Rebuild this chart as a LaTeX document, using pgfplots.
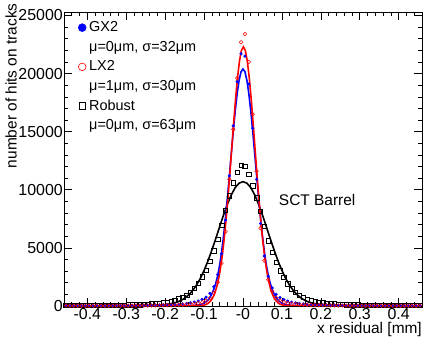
\documentclass[border=0pt]{standalone}
\usepackage{fontspec}
\setmainfont{Liberation Sans}
\usepackage{pgfplots}
\usepackage{pgfplotstable}
\pgfplotsset{compat=1.18}

% histogram points: bin centre, GX2, LX2, Robust
\pgfplotstableread{
x gx lx rb
-0.455 60 40 60
-0.445 28 20 39
-0.435 28 20 40
-0.425 29 20 42
-0.415 29 21 44
-0.405 30 21 46
-0.395 30 22 48
-0.385 31 22 50
-0.375 32 23 53
-0.365 33 23 56
-0.355 34 24 59
-0.345 35 25 63
-0.335 36 26 67
-0.325 37 27 72
-0.315 39 28 78
-0.305 41 29 84
-0.295 43 30 91
-0.285 45 32 100
-0.275 48 34 110
-0.265 51 36 122
-0.255 55 38 137
-0.245 59 41 155
-0.235 64 44 178
-0.225 70 48 205
-0.215 77 52 240
-0.205 86 58 280
-0.195 98 63 340
-0.185 112 71 410
-0.175 130 81 500
-0.165 152 93 610
-0.155 182 108 760
-0.145 220 128 950
-0.135 270 155 1200
-0.125 340 190 1520
-0.115 430 245 1950
-0.105 560 320 2500
-0.095 760 450 3100
-0.085 1080 680 3850
-0.075 1650 1150 4750
-0.065 2700 2050 5750
-0.055 4500 3700 6950
-0.045 7400 6400 8250
-0.035 11200 10900 9500
-0.025 15500 15200 10600
-0.015 19300 19600 11500
-0.005 21700 22700 12100
0.005 21500 23400 12050
0.015 19100 21000 11350
0.025 15300 16500 10350
0.035 10900 11600 9300
0.045 7100 6700 8150
0.055 4300 3900 6850
0.065 2550 2250 5600
0.075 1550 1250 4600
0.085 1000 720 3750
0.095 720 470 3050
0.105 540 330 2450
0.115 420 250 1920
0.125 330 195 1500
0.135 265 160 1190
0.145 215 130 940
0.155 180 110 740
0.165 150 95 600
0.175 128 82 490
0.185 110 72 400
0.195 97 64 330
0.205 86 58 280
0.215 77 52 240
0.225 70 48 205
0.235 64 44 178
0.245 59 41 155
0.255 55 38 137
0.265 51 36 122
0.275 48 34 110
0.285 45 32 100
0.295 43 30 91
0.305 41 29 84
0.315 39 28 78
0.325 37 27 72
0.335 36 26 67
0.345 35 25 63
0.355 34 24 59
0.365 33 23 56
0.375 32 23 53
0.385 31 22 50
0.395 30 22 48
0.405 30 21 46
0.415 29 21 44
0.425 29 20 42
0.435 28 20 40
0.445 28 20 39
0.455 60 40 60
}\hits

% GX2 fit curve
\pgfplotstableread{
x y
-0.46 0
-0.16 0
-0.14 10
-0.13 25
-0.12 55
-0.11 120
-0.10 250
-0.095 360
-0.09 520
-0.085 740
-0.08 1040
-0.075 1430
-0.07 1950
-0.065 2620
-0.06 3517
-0.055 4657
-0.05 6018
-0.045 7589
-0.04 9339
-0.035 11218
-0.03 13146
-0.025 15035
-0.02 16781
-0.015 18276
-0.01 19430
-0.005 20153
0 20400
0.005 20153
0.01 19430
0.015 18276
0.02 16781
0.025 15035
0.03 13146
0.035 11218
0.04 9339
0.045 7589
0.05 6018
0.055 4657
0.06 3517
0.065 2620
0.07 1950
0.075 1430
0.08 1040
0.085 740
0.09 520
0.095 360
0.10 250
0.11 120
0.12 55
0.13 25
0.14 10
0.16 0
0.46 0
}\gxfit

% LX2 fit curve
\pgfplotstableread{
x y
-0.46 0
-0.139 0
-0.119 7
-0.109 27
-0.099 86
-0.094 148
-0.089 248
-0.084 403
-0.079 637
-0.074 980
-0.069 1466
-0.064 2133
-0.059 3018
-0.054 4153
-0.049 5562
-0.044 7241
-0.039 9168
-0.034 11291
-0.029 13526
-0.024 15757
-0.019 17856
-0.014 19680
-0.009 21094
-0.004 21992
0.001 22300
0.006 21992
0.011 21094
0.016 19680
0.021 17856
0.026 15757
0.031 13526
0.036 11291
0.041 9168
0.046 7241
0.051 5562
0.056 4153
0.061 3018
0.066 2133
0.071 1466
0.076 980
0.081 637
0.086 403
0.091 248
0.096 148
0.101 86
0.111 27
0.121 7
0.141 0
0.46 0
}\lxfit

% Robust fit curve
\pgfplotstableread{
x y
-0.46 10
-0.40 15
-0.35 20
-0.30 30
-0.25 50
-0.22 80
-0.20 125
-0.19 170
-0.18 235
-0.17 330
-0.16 470
-0.15 670
-0.14 940
-0.13 1300
-0.12 1770
-0.11 2350
-0.10 3060
-0.09 3880
-0.08 4810
-0.07 5800
-0.06 6820
-0.05 7830
-0.04 8760
-0.03 9570
-0.02 10190
-0.01 10570
0 10700
0.01 10570
0.02 10190
0.03 9570
0.04 8760
0.05 7830
0.06 6820
0.07 5800
0.08 4810
0.09 3880
0.10 3060
0.11 2350
0.12 1770
0.13 1300
0.14 940
0.15 670
0.16 470
0.17 330
0.18 235
0.19 170
0.20 125
0.22 80
0.25 50
0.30 30
0.35 20
0.40 15
0.46 10
}\rbfit

\begin{document}
\begin{tikzpicture}
\begin{axis}[
    at={(0,0)}, anchor=south west,
    scale only axis, width=358bp, height=294bp,
    xmin=-0.46, xmax=0.46, ymin=0, ymax=25300,
    xtick={-0.4,-0.3,-0.2,-0.1,0,0.1,0.2,0.3,0.4},
    xticklabels={-0.4,-0.3,-0.2,-0.1,-0,0.1,0.2,0.3,0.4},
    minor xtick={-0.44,-0.42,-0.38,-0.36,-0.34,-0.32,-0.28,-0.26,-0.24,-0.22,-0.18,-0.16,-0.14,-0.12,-0.08,-0.06,-0.04,-0.02,0.02,0.04,0.06,0.08,0.12,0.14,0.16,0.18,0.22,0.24,0.26,0.28,0.32,0.34,0.36,0.38,0.42,0.44},
    ytick={0,5000,10000,15000,20000,25000},
    minor ytick={1000,2000,3000,4000,6000,7000,8000,9000,11000,12000,13000,14000,16000,17000,18000,19000,21000,22000,23000,24000},
    scaled y ticks=false,
    /pgf/number format/1000 sep={},
    /pgf/number format/assume math mode=true,
    tick align=inside,
    major tick length=8bp, minor tick length=4bp,
    axis line style={line width=0.6bp},
    every tick/.style={line width=0.6bp, black},
    ticklabel style={font=\fontsize{16}{19}\selectfont},
    yticklabel style={inner sep=1bp},
    xticklabel style={inner sep=2bp},
    label style={font=\fontsize{15.5}{18}\selectfont},
    xlabel={x residual [mm]},
    xlabel style={at={(axis description cs:1,-0.095)}, anchor=base east, inner sep=0pt},
    ylabel={number of hits on tracks},
    ylabel style={at={(axis description cs:-0.132,1.03)}, anchor=base east, inner sep=0pt},
    legend style={at={(axis description cs:0.028,0.978)}, anchor=north west,
        draw=none, fill=none, font=\fontsize{14.5}{17}\selectfont,
        nodes={inner sep=0pt, text height=11bp, text depth=3bp},
        row sep=5.6bp, column sep=3bp},
    legend cell align=left,
    legend image code/.code={\draw[mark repeat=2,mark phase=2,#1] plot coordinates {(0bp,0bp)(5bp,0bp)(10bp,0bp)};},
]
% data points
\addplot[only marks, mark=square, mark size=2.2bp, black, line width=0.5bp, forget plot] table[x=x, y=rb] {\hits};
\addplot[only marks, mark=*, mark size=1.4bp, blue, forget plot] table[x=x, y=gx] {\hits};
\addplot[only marks, mark=o, mark size=1.8bp, red, line width=0.5bp, forget plot] table[x=x, y=lx] {\hits};
% fits
\addplot[black, line width=1.6bp, forget plot] table {\rbfit};
\addplot[blue, line width=1.6bp, forget plot] table {\gxfit};
\addplot[red, line width=1.6bp, forget plot] table {\lxfit};

\addlegendimage{only marks, mark=*, mark size=4bp, blue}
\addlegendentry{GX2}
\addlegendimage{empty legend}
\addlegendentry{μ=0μm, σ=32μm}
\addlegendimage{only marks, mark=o, mark size=3.8bp, red, line width=0.6bp}
\addlegendentry{LX2}
\addlegendimage{empty legend}
\addlegendentry{μ=1μm, σ=30μm}
\addlegendimage{only marks, mark=square, mark size=3.4bp, black, line width=0.6bp}
\addlegendentry{Robust}
\addlegendimage{empty legend}
\addlegendentry{μ=0μm, σ=63μm}

\node[anchor=base west, font=\fontsize{15.5}{18}\selectfont, inner sep=0pt] at (axis cs:0.092,8620) {SCT Barrel};
\end{axis}
\pgfresetboundingbox
\path (-64bp,-37bp) rectangle (367bp,306bp);
\end{tikzpicture}
\end{document}
